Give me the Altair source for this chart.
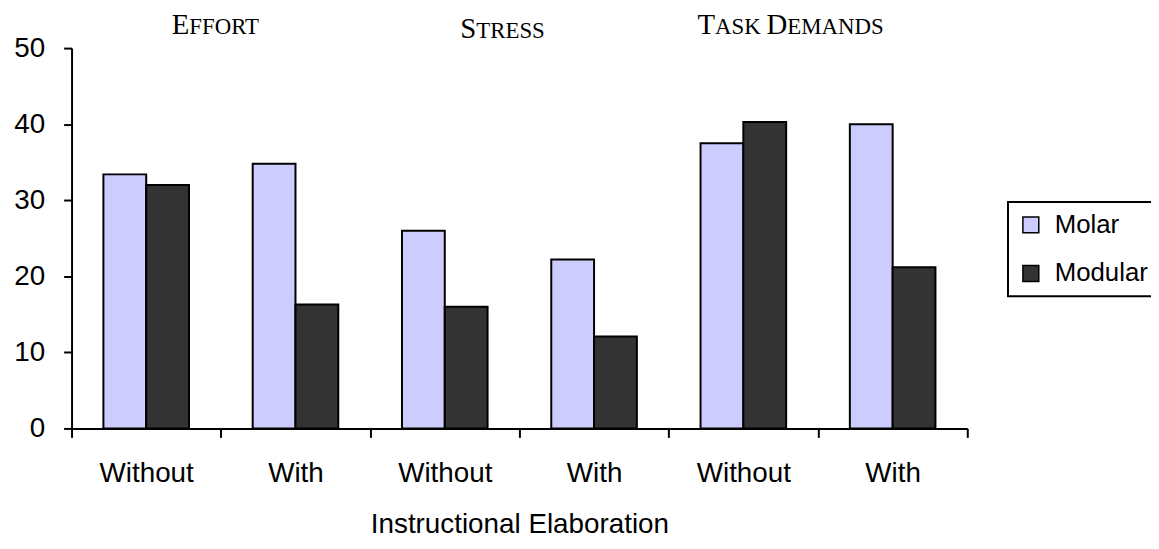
import altair as alt
import pandas as pd

# ---------------- data ----------------
measures = ["Effort", "Stress", "Task Demands"]
elaboration = ["Without", "With"]
series = ["Molar", "Modular"]
molar = [33.4, 34.8, 26.0, 22.2, 37.5, 40.0]
modular = [32.0, 16.3, 16.0, 12.1, 40.3, 21.2]
y_ticks = [0, 10, 20, 30, 40, 50]

rows, keys = [], []
for i, m in enumerate(measures):
    for j, e in enumerate(elaboration):
        k = f"{m}|{e}"
        keys.append(k)
        idx = i * 2 + j
        rows.append({"key": k, "series": "Molar", "value": molar[idx]})
        rows.append({"key": k, "series": "Modular", "value": modular[idx]})
df = pd.DataFrame(rows)

SANS = "Liberation Sans"
SERIF = "Liberation Serif"
W, H = 902, 383
FS = 28
LFS = 26

bars = alt.Chart(df).mark_bar(stroke="black", strokeWidth=2, opacity=1).encode(
    x=alt.X(
        "key:N",
        sort=keys,
        scale=alt.Scale(paddingInner=0, paddingOuter=0),
        axis=alt.Axis(
            title="Instructional Elaboration",
            labelExpr="split(datum.value, '|')[1]",
            tickBand="extent",
            labelAngle=0,
            labelFont=SANS, labelFontSize=FS, labelColor="black",
            labelPadding=22,
            tickSize=9, tickColor="black", tickWidth=2,
            domainColor="black", domainWidth=2,
            titleFont=SANS, titleFontSize=FS, titleFontWeight="normal",
            titleColor="black", titlePadding=24,
            grid=False,
        ),
    ),
    xOffset=alt.XOffset("series:N", sort=series,
                        scale=alt.Scale(paddingInner=0, paddingOuter=0.744)),
    y=alt.Y(
        "value:Q",
        scale=alt.Scale(domain=[0, 50], nice=False),
        axis=alt.Axis(
            title=None, values=y_ticks,
            labelFont=SANS, labelFontSize=FS, labelColor="black",
            labelPadding=19,
            tickSize=8, tickColor="black", tickWidth=2,
            domainColor="black", domainWidth=2, grid=False,
        ),
    ),
    color=alt.Color(
        "series:N",
        sort=series,
        scale=alt.Scale(domain=series, range=["#CCCCFF", "#333333"]),
        legend=alt.Legend(
            title=None, orient="none", legendX=943, legendY=155,
            symbolType="square", symbolSize=256,
            symbolStrokeColor="black", symbolStrokeWidth=1.5,
            symbolOpacity=1,
            labelFont=SANS, labelFontSize=LFS, labelColor="black",
            labelOffset=11, rowPadding=23, padding=10,
            strokeColor="black",
        ),
    ),
)

# ---------------- small-caps group titles ----------------
TW = {" ": 250, "A": 722, "D": 722, "E": 611, "F": 556, "K": 722, "M": 889,
      "N": 722, "O": 722, "R": 667, "S": 556, "T": 611}
BIG, SMALL = 29, 23


def smallcaps(text, cx, y):
    pieces = []
    words = text.split(" ")
    for wi, w in enumerate(words):
        pieces.append((w[0].upper(), BIG))
        rest = w[1:].upper() + (" " if wi < len(words) - 1 else "")
        pieces.append((rest, SMALL))
    widths = [sum(TW[c] for c in s) / 1000 * fs for s, fs in pieces]
    x = cx - sum(widths) / 2
    layers = []
    for (s, fs), wdt in zip(pieces, widths):
        layers.append(
            alt.Chart(pd.DataFrame({"t": [s]})).mark_text(
                font=SERIF, fontSize=fs, align="left", baseline="alphabetic",
                color="black",
            ).encode(x=alt.value(x), y=alt.value(y), text="t:N")
        )
        x += wdt
    return layers


titles = []
titles += smallcaps("Effort", 145.5, -14.5)
titles += smallcaps("Stress", 434, -10.5)
titles += smallcaps("Task Demands", 724, -14.2)

chart = alt.layer(bars, *titles).properties(
    width=W, height=H,
    autosize=alt.AutoSizeParams(type="none"),
    padding={"left": 64, "top": 38.5, "right": 185, "bottom": 116},
).configure_view(stroke=None).configure_legend(strokeWidth=2)

chart.save("out.html", embed_options={"renderer": "svg", "actions": False})
